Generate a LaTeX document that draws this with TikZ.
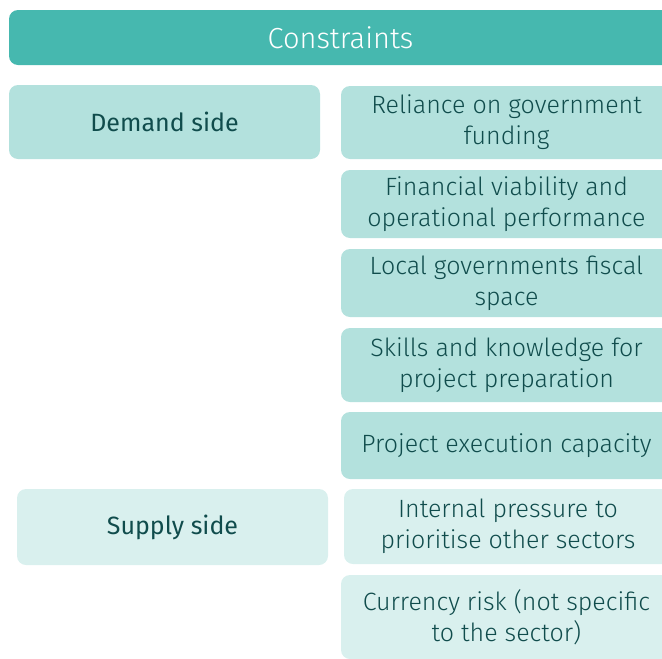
\documentclass[tikz,border=0pt]{standalone}
\usepackage{fontspec}
\setmainfont{Fira Sans}[UprightFont={* Light}]
\newfontfamily\sidefont{Fira Sans}

\begin{document}
\begin{tikzpicture}[x=1pt,y=-1pt,
    box/.style={rounded corners=9pt, align=center, inner sep=0pt, text=textcol,
      font=\fontsize{25}{31}\selectfont},
    rightbox/.style={box, minimum width=331pt}]
            \definecolor{headcol}{RGB}{70,184,175}
            \definecolor{darkcol}{RGB}{179,225,221}
            \definecolor{lightcol}{RGB}{217,240,238}
            \definecolor{textcol}{RGB}{16,76,76}

            \useasboundingbox (0,0) rectangle (662,659);
            \clip (0,0) rectangle (662,659);

            \node[box, fill=headcol, text=white, minimum width=663pt, minimum height=55pt,
              font=\fontsize{29}{31}\selectfont] (head) at (340.5,37.5) {Constraints};

            \node[box, fill=darkcol, minimum width=311pt, minimum height=74pt,
              font=\sidefont\fontsize{25}{31}\selectfont] (demand) at (164.5,122) {Demand side};
            \node[box, fill=lightcol, minimum width=311pt, minimum height=76pt,
              font=\sidefont\fontsize{25}{31}\selectfont] (supply) at (172.5,527) {Supply side};

            \node[rightbox, fill=darkcol, minimum height=73pt] (funding) at (506.5,122.5) {Reliance on government\\funding};
            \node[rightbox, fill=darkcol, minimum height=68pt] (viability) at (506.5,204) {Financial viability and\\operational performance};
            \node[rightbox, fill=darkcol, minimum height=68pt] (fiscal) at (506.5,283) {Local governments fiscal\\space};
            \node[rightbox, fill=darkcol, minimum height=74pt] (skills) at (506.5,365) {Skills and knowledge for\\project preparation};
            \node[rightbox, fill=darkcol, minimum height=67pt] (execution) at (506.5,445.5) {Project execution capacity};
            \node[rightbox, fill=lightcol, minimum width=328pt, minimum height=75pt] (pressure) at (508,526.5) {Internal pressure to\\prioritise other sectors};
            \node[rightbox, fill=lightcol, minimum height=84pt] (currency) at (506.5,617) {Currency risk (not specific\\to the sector)};
        \end{tikzpicture}
\end{document}
